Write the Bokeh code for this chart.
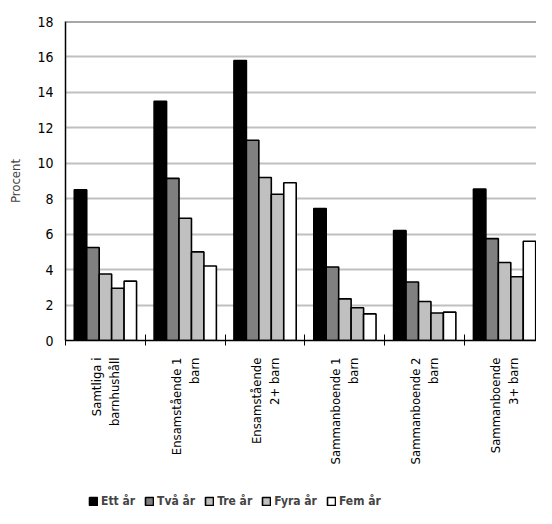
import math
import numpy as np
from bokeh.plotting import figure
from bokeh.layouts import column
from bokeh.models import Range1d, FixedTicker, Span, Legend, LegendItem, ColumnDataSource
from bokeh.embed import file_html
from bokeh.resources import INLINE

# ---- data ----
categories = ["Samtliga i\nbarnhushåll", "Ensamstående 1\nbarn", "Ensamstående\n2+ barn",
              "Sammanboende 1\nbarn", "Sammanboende 2\nbarn", "Sammanboende\n3+ barn"]
series_names = ["Ett år", "Två år", "Tre år", "Fyra år", "Fem år"]
ett_ar = [8.5, 13.5, 15.8, 7.45, 6.2, 8.55]
tva_ar = [5.25, 9.15, 11.3, 4.15, 3.3, 5.75]
tre_ar = [3.75, 6.9, 9.2, 2.35, 2.2, 4.4]
fyra_ar = [2.95, 5.0, 8.25, 1.85, 1.55, 3.6]
fem_ar = [3.35, 4.2, 8.9, 1.5, 1.6, 5.6]
y_ticks = [0, 2, 4, 6, 8, 10, 12, 14, 16, 18]
y_label = "Procent"

series_values = [ett_ar, tva_ar, tre_ar, fyra_ar, fem_ar]
colors = ["#000000", "#808080", "#C0C0C0", "#C0C0C0", "#FFFFFF"]

FONT = "DejaVu Sans Condensed"

n = len(categories)
centers = np.arange(n) + 0.5
bar_w = 0.156

p = figure(width=536, height=478, output_backend="svg", toolbar_location=None,
           x_range=Range1d(0, 5.9), y_range=Range1d(0, 18),
           min_border_left=65, min_border_right=0, min_border_top=21, min_border_bottom=138)
p.outline_line_color = None

p.xgrid.grid_line_color = None
p.ygrid.grid_line_color = "#C0C0C0"
p.ygrid.grid_line_width = 2
p.ygrid.ticker = FixedTicker(ticks=y_ticks)

renderers = []
for k, (name, vals, col) in enumerate(zip(series_names, series_values, colors)):
    xs = centers + (k - 2) * bar_w
    src = ColumnDataSource(dict(x=xs, top=vals))
    r = p.vbar(x="x", top="top", width=bar_w, bottom=0, source=src,
               fill_color=col, line_color="black", line_width=1.6)
    renderers.append(r)

p.add_layout(Span(location=18, dimension="width", line_color="#505050", line_width=2))

# y axis
p.yaxis.ticker = FixedTicker(ticks=y_ticks)
p.yaxis.axis_label = y_label
p.yaxis.axis_label_text_font = FONT
p.yaxis.axis_label_text_font_size = "13px"
p.yaxis.axis_label_text_font_style = "normal"
p.yaxis.axis_label_standoff = 11
p.yaxis.major_label_text_font = FONT
p.yaxis.major_label_text_font_size = "14px"
p.yaxis.major_label_text_color = "black"
p.yaxis.major_tick_out = 0
p.yaxis.major_tick_in = 0
p.yaxis.minor_tick_line_color = None
p.yaxis.major_label_standoff = 12
p.yaxis.axis_line_color = "black"
p.yaxis.axis_line_width = 1.5

# x axis
p.xaxis.ticker = FixedTicker(ticks=list(centers), minor_ticks=list(range(0, n + 1)))
p.xaxis.major_label_overrides = {float(c): lab for c, lab in zip(centers, categories)}
p.xaxis.major_label_orientation = math.pi / 2
p.xaxis.major_label_text_font = FONT
p.xaxis.major_label_text_font_size = "13px"
p.xaxis.major_label_text_color = "black"
p.xaxis.major_label_standoff = 12
p.xaxis.major_tick_in = 0
p.xaxis.major_tick_out = 0
p.xaxis.minor_tick_in = 6
p.xaxis.minor_tick_out = 5
p.xaxis.minor_tick_line_color = "black"
p.xaxis.axis_line_color = "black"
p.xaxis.axis_line_width = 1.5

# legend strip
lf = figure(width=536, height=30, output_backend="svg", toolbar_location=None,
            x_range=Range1d(0, 1), y_range=Range1d(0, 1),
            x_axis_location=None, y_axis_location=None,
            min_border_left=0, min_border_right=0, min_border_top=0, min_border_bottom=0)
lf.grid.visible = False
lf.outline_line_color = None
items = []
for name, col in zip(series_names, colors):
    rr = lf.vbar(x=[float("nan")], top=[float("nan")], width=0.1,
                 fill_color=col, line_color="black", line_width=1.6)
    items.append(LegendItem(label=name, renderers=[rr]))
legend = Legend(items=items, location=(23, 0), orientation="horizontal",
                glyph_width=10, glyph_height=10, label_standoff=3, spacing=9,
                padding=0, margin=0, border_line_color=None, background_fill_alpha=0,
                label_text_font=FONT, label_text_font_size="12px",
                label_text_font_style="bold", label_height=12)
lf.add_layout(legend, "center")

layout = column(p, lf, spacing=0)
open("out.html", "w").write(file_html(layout, INLINE))
